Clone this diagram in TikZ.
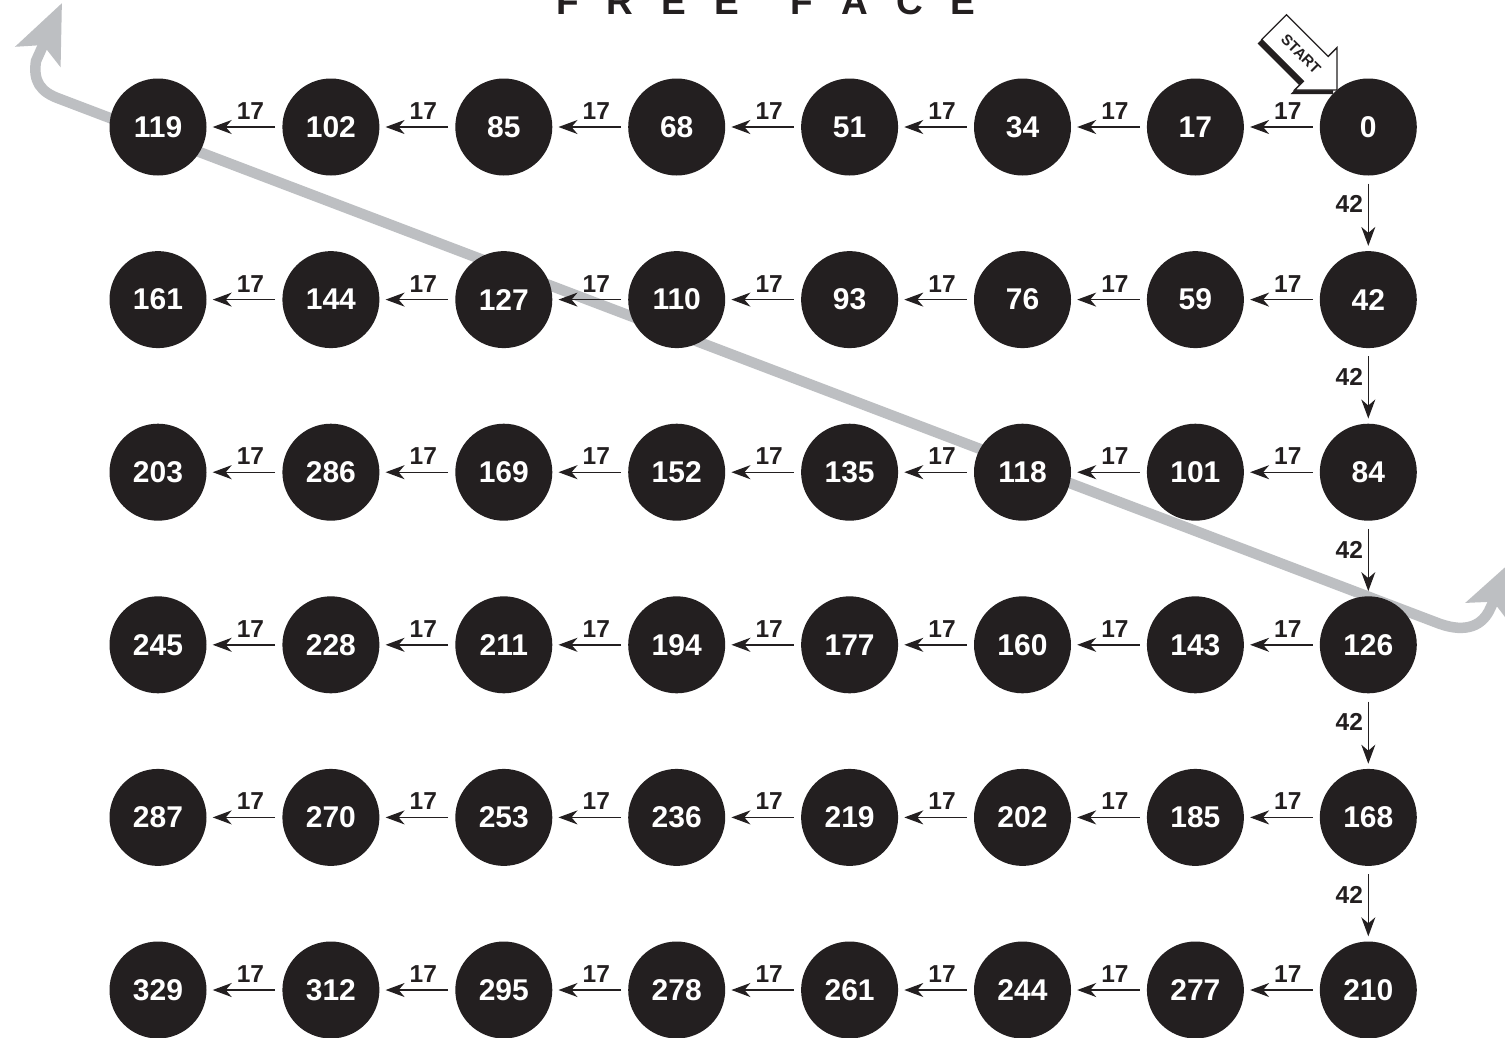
\documentclass[tikz,border=0pt]{standalone}
\usepackage{fontspec}
\setmainfont{Liberation Sans}
\usetikzlibrary{arrows.meta,calc}
\definecolor{inkblack}{RGB}{35,31,32}
\definecolor{pathgray}{RGB}{189,191,194}
\begin{document}
\begin{tikzpicture}[x=1pt,y=-1pt,
  numnode/.style={circle,fill=inkblack,text=white,minimum size=97pt,inner sep=0pt,
    font=\fontsize{30}{30}\selectfont\bfseries},
  steparrow/.style={draw=inkblack,line width=1.4pt,-{Stealth[length=19pt,width=14pt,inset=6pt]}},
  steplabel/.style={font=\fontsize{24.5}{24.5}\selectfont\bfseries,text=inkblack,inner sep=0pt},
  grayroute/.style={draw=pathgray,line width=10.5pt,
    {Stealth[length=58pt,width=48pt,inset=12pt]}-{Stealth[length=58pt,width=48pt,inset=12pt]}},
  startshape/.style={fill=white,draw=inkblack,line width=1.3pt,line join=miter}]
\useasboundingbox (0,0) rectangle (1505,1037);
\fill[white] (0,0) rectangle (1505,1037);

% title (cut by the top edge)
\node[anchor=base west,inner sep=0pt,font=\fontsize{37}{37}\selectfont\bfseries,text=inkblack] (title) at (556,14)
  {F\kern28pt R\kern28pt E\kern28pt E\kern52pt F\kern28pt A\kern28pt C\kern28pt E};

% gray route behind everything
\draw[grayroute] (62,3) -- (36,61) .. controls (33,81) and (40,92) .. (60,99)
  -- (1435,622) .. controls (1462,633) and (1480,628) .. (1489,611) -- (1513,560);

% nodes
\foreach \r/\vals in {1/{119,102,85,68,51,34,17,0},
                      2/{161,144,127,110,93,76,59,42},
                      3/{203,286,169,152,135,118,101,84},
                      4/{245,228,211,194,177,160,143,126},
                      5/{287,270,253,236,219,202,185,168},
                      6/{329,312,295,278,261,244,277,210}}{
  \foreach \v [count=\c] in \vals {
    \pgfmathsetmacro{\xx}{158+172.9*(\c-1)}
    \pgfmathsetmacro{\yy}{127+172.6*(\r-1)}
    \node[numnode] (n\r-\c) at (\xx,\yy) {\v};
  }
}

% horizontal arrows (right to left)
\foreach \r in {1,...,6}{
  \foreach \c [evaluate=\c as \d using int(\c+1)] in {1,...,7}{
    \draw[steparrow,shorten <=7pt,shorten >=6pt] (n\r-\d) -- (n\r-\c);
    \path ($(n\r-\c)!0.5!(n\r-\d)$) ++(6,-16) node[steplabel] (l\r-\c) {17};
  }
}

% vertical arrows (down the right column)
\foreach \r [evaluate=\r as \s using int(\r+1)] in {1,...,5}{
  \draw[steparrow,shorten <=8pt,shorten >=5pt] (n\r-8) -- (n\s-8);
  \path ($(n\r-8)!0.5!(n\s-8)$) ++(-19,-9) node[steplabel] (v\r) {42};
}

% START arrow
\fill[inkblack,shift={(-4pt,-4pt)}] (1286.5,14.7) -- (1328.2,56.4) -- (1337,47.6) -- (1337,90)
  -- (1294.6,90) -- (1303.4,81.2) -- (1261.7,39.5) -- cycle;
\filldraw[startshape] (1286.5,14.7) -- (1328.2,56.4) -- (1337,47.6) -- (1337,90)
  -- (1294.6,90) -- (1303.4,81.2) -- (1261.7,39.5) -- cycle;
\node[rotate=-45,inner sep=0pt,font=\fontsize{15}{15}\selectfont\bfseries,text=inkblack] (start) at (1301,54) {START};
\end{tikzpicture}
\end{document}
